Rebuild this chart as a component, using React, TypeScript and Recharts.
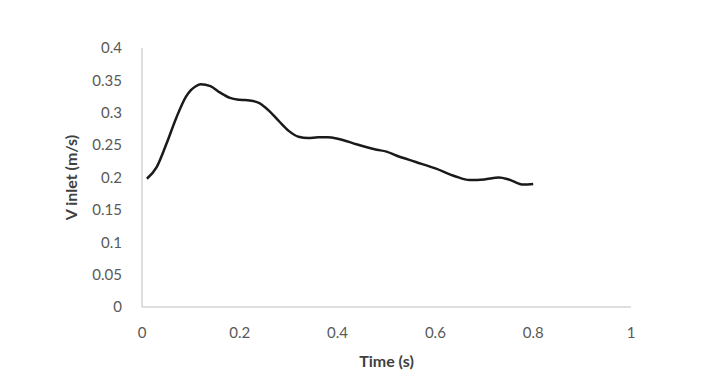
import { LineChart, Line, XAxis, YAxis, Label } from 'recharts';

// Inlet velocity waveform
const times = [
  0.01, 0.03, 0.05, 0.07, 0.09, 0.1, 0.11, 0.12, 0.14, 0.16, 0.18, 0.2, 0.22, 0.24, 0.26, 0.28, 0.3,
  0.32, 0.34, 0.36, 0.38, 0.4, 0.44, 0.48, 0.5, 0.52, 0.56, 0.6, 0.64, 0.67, 0.7, 0.73, 0.75, 0.78,
  0.8,
];
const velocity = [
  0.198, 0.216, 0.252, 0.292, 0.325, 0.335, 0.341, 0.344, 0.341, 0.331, 0.323, 0.32, 0.319, 0.315,
  0.303, 0.287, 0.272, 0.263, 0.261, 0.262, 0.262, 0.26, 0.251, 0.243, 0.24, 0.234, 0.224, 0.214,
  0.202, 0.196, 0.197, 0.2, 0.197, 0.189, 0.19,
];
const xTicks = [0, 0.2, 0.4, 0.6, 0.8, 1];
const yTicks = [0, 0.05, 0.1, 0.15, 0.2, 0.25, 0.3, 0.35, 0.4];

const data = times.map((t, i) => ({ t, v: velocity[i] }));

const FONT = 'Lato, "Open Sans", sans-serif';
const fmt = (v: number) => String(+v.toFixed(2));

const App = () => {
  return (
    <div style={{ position: 'absolute', left: 0, top: 0, width: 703, height: 389, background: '#fff' }}>
      <LineChart width={703} height={389} data={data} margin={{ top: 48, right: 72, left: 0, bottom: 0 }}>
        <XAxis
          dataKey="t"
          type="number"
          domain={[0, 1]}
          ticks={xTicks}
          tickFormatter={fmt}
          height={82}
          tickLine={false}
          tickSize={0}
          tickMargin={20}
          stroke="#bfbfbf"
          tick={{ fill: '#595959', fontSize: 15, fontFamily: FONT }}
        >
          <Label
            value="Time (s)"
            position="insideTop"
            offset={49}
            style={{ fill: '#404040', fontSize: 16, fontWeight: 'bold', fontFamily: FONT }}
          />
        </XAxis>
        <YAxis
          type="number"
          domain={[0, 0.4]}
          ticks={yTicks}
          tickFormatter={fmt}
          width={142}
          tickLine={false}
          tickSize={0}
          tickMargin={20}
          stroke="#bfbfbf"
          tick={{ fill: '#595959', fontSize: 15, fontFamily: FONT }}
        >
          <Label
            value="V inlet (m/s)"
            angle={-90}
            position="insideLeft"
            offset={71}
            style={{ fill: '#404040', fontSize: 16, fontWeight: 'bold', fontFamily: FONT, textAnchor: 'middle' }}
          />
        </YAxis>
        <Line
          type="monotone"
          dataKey="v"
          stroke="#1a1a1a"
          strokeWidth={2.5}
          dot={false}
          isAnimationActive={false}
        />
      </LineChart>
    </div>
  );
};

export default App;
